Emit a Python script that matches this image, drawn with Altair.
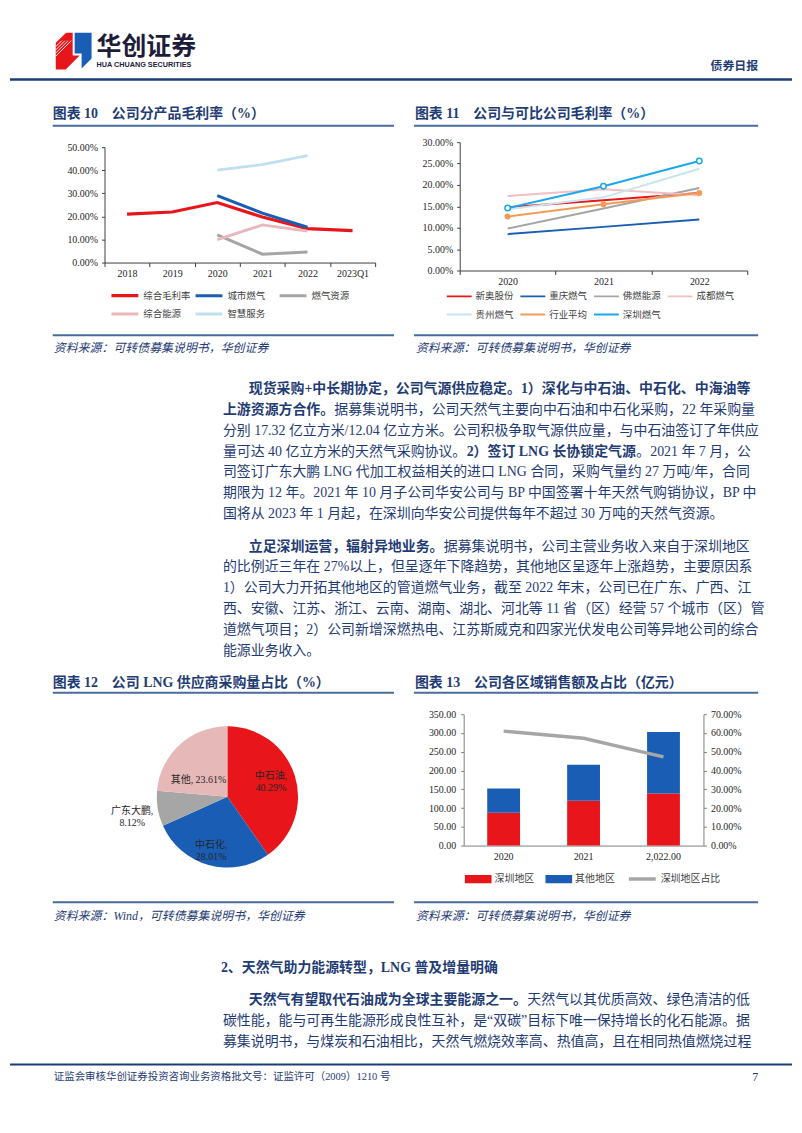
import altair as alt
import pandas as pd

# ---------------- style constants ----------------
NAVY = "#1F3C74"
RULE = "#4A6B9D"
HEAD = "#1E3C78"
AX = "#404040"
LAB = "#262626"
CJK = "Noto Sans CJK SC"
SERIF = "Liberation Serif"
MIX = "Liberation Serif, Noto Sans CJK SC"

# ---------------- chart 10 data ----------------
years10 = ["2018", "2019", "2020", "2021", "2022", "2023Q1"]
series10 = ["综合毛利率", "城市燃气", "燃气资源", "综合能源", "智慧服务"]
zonghe_maoli = [21.0, 21.9, 26.0, 19.7, 14.7, 13.8]
chengshi_ranqi = [None, None, 29.0, 21.4, 15.3, None]
ranqi_ziyuan = [None, None, 12.0, 3.6, 4.6, None]
zonghe_nengyuan = [None, None, 9.9, 16.3, 13.6, None]
zhihui_fuwu = [None, None, 40.0, 42.4, 46.3, None]
colors10 = ["#E8151B", "#1A5DB5", "#A5A5A5", "#E8B7BA", "#BFE0EE"]
widths10 = [3.2, 2.8, 2.4, 2.4, 2.4]

# ---------------- chart 11 data ----------------
years11 = ["2020", "2021", "2022"]
series11 = ["新奥股份", "重庆燃气", "佛燃能源", "成都燃气", "贵州燃气", "行业平均", "深圳燃气"]
xinao = [14.8, 16.4, 18.1]
chongqing = [8.5, 10.2, 11.9]
foran = [9.8, 14.5, 19.3]
chengdu = [17.4, 19.0, 17.6]
guizhou = [14.3, 17.1, 23.8]
hangye = [12.6, 15.5, 18.1]
shenzhen = [14.6, 19.7, 25.6]
colors11 = ["#E8151B", "#1A5DB5", "#A5A5A5", "#F2BFC4", "#C8E4EF", "#F39B56", "#1AA7EC"]
widths11 = [2, 2, 2, 2, 2, 4.5, 4]

# ---------------- chart 12 data ----------------
names12 = ["中石油", "中石化", "广东大鹏", "其他"]
vals12 = [40.29, 28.01, 8.12, 23.61]
colors12 = ["#E8151B", "#1A5DB5", "#A6A6A6", "#E6B9B8"]

# ---------------- chart 13 data ----------------
cats13 = ["2020", "2021", "2,022.00"]
regions13 = ["深圳地区", "其他地区"]
shenzhen13 = [87.7, 119.6, 139.1]
other13 = [64.5, 95.7, 163.9]
share13 = [61.0, 57.2, 47.3]
share_name13 = "深圳地区占比"

ONE = pd.DataFrame({"k": [0]})

INDEP = dict(color="independent", strokeWidth="independent", stroke="independent",
             theta="independent")
GAP = "\u2003"


def frame(x1, y1, x2, y2):
    return alt.Chart(ONE).mark_rect(opacity=0).encode(
        x=alt.value(x1), x2=alt.value(x2), y=alt.value(y1), y2=alt.value(y2))


def spacer():
    return alt.layer(frame(0, 0, 1, 1)).properties(width=1, height=1)


def txt(s, x, y, size=14, bold=False, color=NAVY, font=MIX, align="left", italic=False):
    kw = dict(text=s, align=align, baseline="middle", fontSize=size, font=font,
              color=color, fontWeight="bold" if bold else "normal")
    if italic:
        kw["fontStyle"] = "italic"
    return alt.Chart(ONE).mark_text(**kw).encode(x=alt.value(x), y=alt.value(y))


def hline(x1, x2, y, color=RULE, w=2.0):
    return alt.Chart(ONE).mark_rule(color=color, strokeWidth=w).encode(
        x=alt.value(x1), x2=alt.value(x2), y=alt.value(y))


def seg(x1, y1, x2, y2, color="white", w=1.0):
    return alt.Chart(ONE).mark_rule(color=color, strokeWidth=w).encode(
        x=alt.value(x1), y=alt.value(y1), x2=alt.value(x2), y2=alt.value(y2))


def width_expr(names, widths):
    """legend symbol stroke width looked up from the series' own line width"""
    arr_n = "[" + ",".join(f"'{n}'" for n in names) + "]"
    arr_w = "[" + ",".join(str(w) for w in widths) + "]"
    return alt.ExprRef(expr=f"{arr_w}[indexof({arr_n}, datum.label)]")


LAT = {c: 0.5 for c in "0123456789"}
LAT.update({" ": 0.25, ".": 0.25, "/": 0.278, "%": 0.833, "+": 0.564, "L": 0.611,
            "N": 0.722, "G": 0.722, "B": 0.667, "P": 0.556, "“": 0.444, "”": 0.444})


def tw(s, size=14, bold=False):
    w = 0.0
    for ch in s:
        if ord(ch) >= 0x2E80:
            w += size
        else:
            w += LAT.get(ch, 0.5) * size * (1.04 if bold else 1.0)
    return w


def para_line(segs, x, y, size=14):
    out = []
    for s, b in segs:
        out.append(txt(s, x, y, size, b))
        x += tw(s, size, b)
    return out


# ================= Row A: header (page y 8..134) =================
red_logo = "M-18,-8.5L-7.5,-18.5L-1,-18.5L-1,4.5L6,4.5L-8,18.5L-18,18.5Z"
blue_logo = "M1,-18.5L18,-18.5L18,7.5L8,17.5L8,2.5L1,2.5Z"
logo = [
    alt.Chart(ONE).mark_point(shape=red_logo, size=4, filled=True, fill="#E8151B",
                              strokeWidth=0, opacity=1).encode(x=alt.value(64), y=alt.value(40.5)),
    alt.Chart(ONE).mark_point(shape=blue_logo, size=4, filled=True, fill="#1A5DB5",
                              strokeWidth=0, opacity=1).encode(x=alt.value(64), y=alt.value(40.5)),
]
hatch = [seg(46, 36 + 3.2 * k, 52 + 3.2 * k, 30 + 0.0 * k, "white", 0.9) for k in range(4)]
hatch += [seg(73 + 3.2 * k, 59, 82, 50 + 3.2 * k, "white", 0.9) for k in range(3)]
rowA_layers = [frame(0, 0, 786, 126)] + logo + hatch + [
    txt("华创证券", 87, 36, 25, True, "#1D1D3B", CJK),
    txt("HUA CHUANG SECURITIES", 87, 54, 7.3, True, "#1D1D3B", "Liberation Sans"),
    txt("债券日报", 752, 55, 12, True, NAVY, CJK, align="right"),
    hline(0, 786, 69, HEAD, 2.5),
    txt("图表 10" + GAP + "公司分产品毛利率（%）", 43, 104, 14, True),
    txt("图表 11" + GAP + "公司与可比公司毛利率（%）", 407, 104, 14, True),
    hline(43, 386, 115.5),
    hline(406, 752, 115.5),
]
rowA = alt.layer(*rowA_layers).properties(width=786, height=126)

# ================= Row B: charts 10 / 11 (page y 134..330) =================
rows = []
for name, vals in zip(series10, [zonghe_maoli, chengshi_ranqi, ranqi_ziyuan, zonghe_nengyuan, zhihui_fuwu]):
    for yr, v in zip(years10, vals):
        if v is not None:
            rows.append({"year": yr, "series": name, "v": v})
df10 = pd.DataFrame(rows)

leg10 = alt.Legend(orient="none", legendX=5, legendY=148.3, columns=3, direction="horizontal",
                   title=None, symbolType="stroke", symbolSize=729,
                   symbolStrokeWidth=width_expr(series10, widths10),
                   clipHeight=12, labelFont=CJK, labelFontSize=9.5, labelColor="#3F3F3F",
                   labelOffset=3, columnPadding=2.5, rowPadding=6.4, gridAlign="all", padding=0)

lines10 = alt.Chart(df10).mark_line().encode(
    x=alt.X("year:N", sort=years10,
            scale=alt.Scale(domain=years10, paddingInner=0, paddingOuter=0),
            axis=alt.Axis(title=None, labelAngle=0, labelFont=SERIF, labelFontSize=10,
                          labelColor=LAB, domainColor=AX, tickColor=AX, tickSize=4,
                          tickBand="extent", labelPadding=2, grid=False)),
    y=alt.Y("v:Q", scale=alt.Scale(domain=[0, 50], range=[121, 5], nice=False),
            axis=alt.Axis(title=None, values=[0, 10, 20, 30, 40, 50],
                          labelExpr="format(datum.value, '.2f') + '%'",
                          labelFont=SERIF, labelFontSize=10, labelColor=LAB,
                          domainColor=AX, tickColor=AX, tickSize=3, labelPadding=4, grid=False)),
    color=alt.Color("series:N", scale=alt.Scale(domain=series10, range=colors10), legend=leg10),
    strokeWidth=alt.StrokeWidth("series:N", scale=alt.Scale(domain=series10, range=widths10), legend=None),
)
p10 = alt.layer(frame(-94, -6, 304, 190), lines10).properties(width=272, height=121)

rows = []
for name, vals in zip(series11, [xinao, chongqing, foran, chengdu, guizhou, hangye, shenzhen]):
    for yr, v in zip(years11, vals):
        rows.append({"year": yr, "series": name, "v": v})
df11 = pd.DataFrame(rows)

leg11 = alt.Legend(orient="none", legendX=-14, legendY=149, columns=4, direction="horizontal",
                   title=None, symbolType="stroke", symbolSize=625,
                   symbolStrokeWidth=width_expr(series11, widths11),
                   clipHeight=12, labelFont=CJK, labelFontSize=9.5, labelColor="#3F3F3F",
                   labelOffset=3, columnPadding=5, rowPadding=6.3, gridAlign="all", padding=0)

x11 = alt.X("year:N", sort=years11, scale=alt.Scale(domain=years11, paddingInner=0, paddingOuter=0),
            axis=alt.Axis(title=None, labelAngle=0, labelFont=SERIF, labelFontSize=10,
                          labelColor=LAB, domainColor=AX, tickColor=AX, tickSize=4,
                          tickBand="extent", labelPadding=2, grid=False))
y11 = alt.Y("v:Q", scale=alt.Scale(domain=[0, 30], nice=False),
            axis=alt.Axis(title=None, values=[0, 5, 10, 15, 20, 25, 30],
                          labelExpr="format(datum.value, '.2f') + '%'",
                          labelFont=SERIF, labelFontSize=10, labelColor=LAB,
                          domainColor=AX, tickColor=AX, tickSize=3, labelPadding=4, grid=False))
lines11 = alt.Chart(df11).mark_line().encode(
    x=x11, y=y11,
    color=alt.Color("series:N", scale=alt.Scale(domain=series11, range=colors11), legend=leg11),
    strokeWidth=alt.StrokeWidth("series:N", scale=alt.Scale(domain=series11, range=widths11), legend=None),
)
pts_avg = alt.Chart(df11).transform_filter("datum.series == '行业平均'").mark_circle(
    size=36, color="#F39B56", opacity=1).encode(x=x11, y=y11)
pts_sz = alt.Chart(df11).transform_filter("datum.series == '深圳燃气'").mark_circle(
    size=30, fill="white", stroke="#1AA7EC", strokeWidth=1.5, opacity=1).encode(x=x11, y=y11)
p11 = alt.layer(frame(-53, -6, 334, 190), lines11, pts_avg, pts_sz).properties(width=289, height=129)

rowB = alt.hconcat(spacer(), p10, p11, spacing=0).resolve_scale(**INDEP).resolve_legend(
    color="independent", strokeWidth="independent", stroke="independent")

# ================= Row C: text (page y 330..700) =================
P1 = [
    [("现货采购+中长期协定，公司气源供应稳定。1）深化与中石油、中石化、中海油等", True)],
    [("上游资源方合作。", True), ("据募集说明书，公司天然气主要向中石油和中石化采购，22 年采购量", False)],
    [("分别 17.32 亿立方米/12.04 亿立方米。公司积极争取气源供应量，与中石油签订了年供应", False)],
    [("量可达 40 亿立方米的天然气采购协议。", False), ("2）签订 LNG 长协锁定气源", True), ("。2021 年 7 月，公", False)],
    [("司签订广东大鹏 LNG 代加工权益相关的进口 LNG 合同，采购气量约 27 万吨/年，合同", False)],
    [("期限为 12 年。2021 年 10 月子公司华安公司与 BP 中国签署十年天然气购销协议，BP 中", False)],
    [("国将从 2023 年 1 月起，在深圳向华安公司提供每年不超过 30 万吨的天然气资源。", False)],
]
P2 = [
    [("立足深圳运营，辐射异地业务。", True), ("据募集说明书，公司主营业务收入来自于深圳地区", False)],
    [("的比例近三年在 27%以上，但呈逐年下降趋势，其他地区呈逐年上涨趋势，主要原因系", False)],
    [("1）公司大力开拓其他地区的管道燃气业务，截至 2022 年末，公司已在广东、广西、江", False)],
    [("西、安徽、江苏、浙江、云南、湖南、湖北、河北等 11 省（区）经营 57 个城市（区）管", False)],
    [("道燃气项目；2）公司新增深燃热电、江苏斯威克和四家光伏发电公司等异地公司的综合", False)],
    [("能源业务收入。", False)],
]
P1_y = [58, 79.5, 100.5, 121, 142, 163, 184]
P2_y = [216.5, 237, 258, 279, 300, 321]

rowC_layers = [frame(0, 0, 786, 370),
               hline(43, 386, 4), hline(406, 752, 4),
               txt("资料来源：可转债募集说明书，华创证券", 44, 17, 12, False, NAVY, MIX, italic=True),
               txt("资料来源：可转债募集说明书，华创证券", 408, 17, 12, False, NAVY, MIX, italic=True)]
for i, (segs, yy) in enumerate(zip(P1, P1_y)):
    rowC_layers += para_line(segs, 240 if i == 0 else 214, yy)
for i, (segs, yy) in enumerate(zip(P2, P2_y)):
    rowC_layers += para_line(segs, 240 if i == 0 else 214, yy)
rowC_layers += [
    txt("图表 12" + GAP + "公司 LNG 供应商采购量占比（%）", 43, 354, 14, True),
    txt("图表 13" + GAP + "公司各区域销售额及占比（亿元）", 407, 354, 14, True),
    hline(43, 386, 363.5), hline(406, 752, 363.5),
]
rowC = alt.layer(*rowC_layers).properties(width=786, height=370)

# ================= Row D: charts 12 / 13 (page y 700..895) =================
df12 = pd.DataFrame({"name": names12, "v": vals12,
                     "label": [f"{n},\n{v:.2f}%" if n != "其他" else f"{n}, {v:.2f}%"
                               for n, v in zip(names12, vals12)]})
base12 = alt.Chart(df12).transform_window(i="row_number()")
arcs = base12.mark_arc(outerRadius=71).encode(
    theta=alt.Theta("v:Q", stack=True),
    color=alt.Color("name:N", scale=alt.Scale(domain=names12, range=colors12), legend=None),
    order=alt.Order("i:Q"),
)
label_pos = {"中石油": (48, -2, -6), "中石化": (50, -3, 0), "广东大鹏": (96, -1, -2), "其他": (40, -2, 13)}
label_layers = []
for n in names12:
    r, ddx, ddy = label_pos[n]
    label_layers.append(
        alt.Chart(df12).transform_window(cum="sum(v)", frame=[None, 0])
        .transform_calculate(mid="datum.cum - datum.v / 2")
        .transform_filter(f"datum.name == '{n}'")
        .mark_text(radius=r, dx=ddx, dy=ddy, lineBreak="\n", font=MIX, fontSize=10,
                   color="#262626", align="center", baseline="middle")
        .encode(theta=alt.Theta("mid:Q", stack=False), text="label:N")
    )
p12 = alt.layer(frame(-146, -15, 252, 180), arcs, *label_layers).properties(width=143, height=166)

rows = []
for reg, vals in zip(regions13, [shenzhen13, other13]):
    for c, v in zip(cats13, vals):
        rows.append({"year": c, "region": reg, "v": v})
df13 = pd.DataFrame(rows)
df13s = pd.DataFrame({"year": cats13, "s": share13, "lab": [share_name13] * len(cats13)})

x13 = alt.X("year:N", sort=cats13, scale=alt.Scale(domain=cats13, paddingInner=0, paddingOuter=0),
            axis=alt.Axis(title=None, labelAngle=0, labelFont=SERIF, labelFontSize=10,
                          labelColor=LAB, domainColor="#7F7F7F", ticks=False, labelPadding=6, grid=False))
bars13 = alt.Chart(df13).transform_window(o="row_number()").mark_bar(size=33).encode(
    x=x13,
    y=alt.Y("v:Q", stack="zero", scale=alt.Scale(domain=[0, 350], nice=False),
            axis=alt.Axis(title=None, values=list(range(0, 351, 50)), format=".2f",
                          labelFont=SERIF, labelFontSize=10, labelColor=LAB,
                          domainColor="#7F7F7F", tickColor="#7F7F7F", tickSize=3,
                          labelPadding=5, grid=False)),
    color=alt.Color("region:N", scale=alt.Scale(domain=regions13, range=["#E8151B", "#1A5DB5"]),
                    legend=alt.Legend(orient="none", legendX=1, legendY=159.7, direction="horizontal",
                                      title=None, symbolType="M-1,-0.3H1V0.3H-1Z", symbolSize=729,
                                      clipHeight=12, labelFont=CJK, labelFontSize=10,
                                      labelColor="#3F3F3F", labelOffset=3, columnPadding=11,
                                      padding=0, symbolStrokeWidth=0)),
    order=alt.Order("o:Q"),
)
line13 = alt.Chart(df13s).mark_line(strokeWidth=3.5).encode(
    x=x13,
    y=alt.Y("s:Q", scale=alt.Scale(domain=[0, 70], nice=False),
            axis=alt.Axis(title=None, orient="right", values=list(range(0, 71, 10)),
                          labelExpr="format(datum.value, '.2f') + '%'",
                          labelFont=SERIF, labelFontSize=10, labelColor=LAB,
                          domainColor="#7F7F7F", tickColor="#7F7F7F", tickSize=3,
                          labelPadding=4, grid=False)),
    stroke=alt.Stroke("lab:N", scale=alt.Scale(domain=[share_name13], range=["#A6A6A6"]),
                      legend=alt.Legend(orient="none", legendX=164, legendY=159.7, title=None,
                                        symbolType="stroke", symbolSize=729, symbolStrokeWidth=3.5,
                                        clipHeight=12, labelFont=CJK, labelFontSize=10,
                                        labelColor="#3F3F3F", labelOffset=3, padding=0)),
)
p13 = alt.layer(frame(-57, -15, 330, 180), bars13, line13).resolve_scale(y="independent").properties(
    width=241, height=132)

rowD = alt.hconcat(spacer(), p12, p13, spacing=0).resolve_scale(**INDEP).resolve_legend(
    color="independent", strokeWidth="independent", stroke="independent")

# ================= Row E: text (page y 895..1125) =================
P3 = [
    [("天然气有望取代石油成为全球主要能源之一。", True), ("天然气以其优质高效、绿色清洁的低", False)],
    [("碳性能，能与可再生能源形成良性互补，是“双碳”目标下唯一保持增长的化石能源。据", False)],
    [("募集说明书，与煤炭和石油相比，天然气燃烧效率高、热值高，且在相同热值燃烧过程", False)],
]
P3_y = [107, 128, 149]
rowE_layers = [frame(0, 0, 786, 230),
               hline(43, 386, 9), hline(406, 752, 9),
               txt("资料来源：Wind，可转债募集说明书，华创证券", 44, 23, 12, False, NAVY, MIX, italic=True),
               txt("资料来源：可转债募集说明书，华创证券", 408, 23, 12, False, NAVY, MIX, italic=True),
               txt("2、天然气助力能源转型，LNG 普及增量明确", 212, 75, 14, True)]
for i, (segs, yy) in enumerate(zip(P3, P3_y)):
    rowE_layers += para_line(segs, 240 if i == 0 else 214, yy)
rowE_layers += [
    hline(0, 786, 172, HEAD, 2),
    txt("证监会审核华创证券投资咨询业务资格批文号：证监许可（2009）1210 号", 44, 185, 10.5, False, NAVY),
    txt("7", 752, 185, 12, False, NAVY, align="right"),
]
rowE = alt.layer(*rowE_layers).properties(width=786, height=230)

chart = alt.vconcat(rowA, rowB, rowC, rowD, rowE, spacing=0).resolve_scale(**INDEP).resolve_legend(
    color="independent", strokeWidth="independent", stroke="independent").properties(
    padding=0, background="white").configure_view(strokeWidth=0)

chart.save("out.html", embed_options={"renderer": "svg", "actions": False})
